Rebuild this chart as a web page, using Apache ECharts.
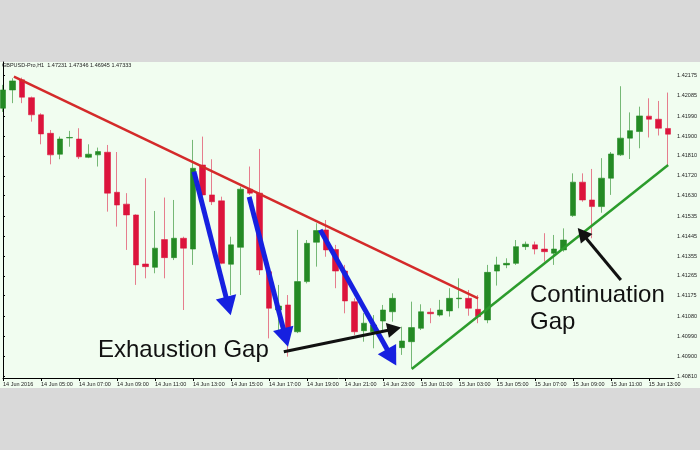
<!DOCTYPE html>
<html><head><meta charset="utf-8">
<script src="https://cdn.jsdelivr.net/npm/echarts@6/dist/echarts.min.js"></script>
<style>html,body{margin:0;padding:0;background:#d9d9d9}#c{width:700px;height:450px}</style>
</head><body><div id="c"></div>
<script>
// ---- data ----
const headerText = 'GBPUSD-Pro,H1  1.47231 1.47346 1.46945 1.47333';
const xTickIndex = [0,4,8,12,16,20,24,28,32,36,40,44,48,52,56,60,64,68];
const xTickLabels = ['14 Jun 2016','14 Jun 05:00','14 Jun 07:00','14 Jun 09:00','14 Jun 11:00','14 Jun 13:00','14 Jun 15:00','14 Jun 17:00','14 Jun 19:00','14 Jun 21:00','14 Jun 23:00','15 Jun 01:00','15 Jun 03:00','15 Jun 05:00','15 Jun 07:00','15 Jun 09:00','15 Jun 11:00','15 Jun 13:00'];
const yTicks = [1.40810,1.40900,1.40990,1.41080,1.41175,1.41265,1.41355,1.41445,1.41535,1.41630,1.41720,1.41810,1.41900,1.41990,1.42085,1.42175];

const opens = [1.42027,1.42110,1.42156,1.42075,1.41997,1.41913,1.41818,1.41892,1.41887,1.41804,
1.41815,1.41827,1.41645,1.41591,1.41542,1.41319,1.41304,1.41430,1.41348,1.41436,
1.41387,1.41769,1.41633,1.41606,1.41318,1.41395,1.41659,1.41641,1.41284,1.41110,
1.41133,1.41011,1.41239,1.41418,1.41474,1.41385,1.41287,1.41148,1.41016,1.41011,
1.41060,1.41102,1.40939,1.40966,1.41027,1.41100,1.41087,1.41106,1.41161,1.41163,
1.41113,1.41065,1.41287,1.41315,1.41322,1.41398,1.41406,1.41387,1.41368,1.41383,
1.41539,1.41691,1.41610,1.41580,1.41709,1.41815,1.41891,1.41921,1.41991,1.41977,
1.41935];
const closes = [1.42110,1.42151,1.42077,1.41997,1.41910,1.41815,1.41887,1.41894,1.41806,1.41818,
1.41830,1.41641,1.41587,1.41542,1.41315,1.41307,1.41391,1.41348,1.41436,1.41391,
1.41754,1.41633,1.41602,1.41322,1.41406,1.41659,1.41641,1.41292,1.41118,1.41128,
1.41011,1.41239,1.41413,1.41471,1.41383,1.41287,1.41151,1.41011,1.41050,1.41042,
1.41110,1.41163,1.40969,1.41030,1.41102,1.41093,1.41110,1.41163,1.41164,1.41118,
1.41080,1.41281,1.41315,1.41322,1.41398,1.41409,1.41387,1.41375,1.41387,1.41428,
1.41691,1.41610,1.41580,1.41709,1.41819,1.41891,1.41925,1.41992,1.41977,1.41936,
1.41909];
const lows = [1.42010,1.42050,1.42050,1.41966,1.41863,1.41772,1.41795,1.41852,1.41796,1.41800,
1.41762,1.41557,1.41489,1.41383,1.41224,1.41254,1.41277,1.41254,1.41337,1.41110,
1.41315,1.41625,1.41587,1.41318,1.41178,1.41178,1.41633,1.41269,1.40981,1.40996,
1.40898,1.41005,1.41231,1.41307,1.41352,1.41209,1.41095,1.40996,1.40966,1.40936,
1.41011,1.41057,1.40906,1.40845,1.41019,1.41050,1.41080,1.41080,1.41118,1.41084,
1.41050,1.41050,1.41221,1.41300,1.41315,1.41383,1.41363,1.41330,1.41315,1.41375,
1.41533,1.41602,1.41436,1.41552,1.41633,1.41810,1.41796,1.41845,1.41894,1.41903,
1.41769];
const highs = [1.42133,1.42163,1.42166,1.42080,1.42004,1.41928,1.41898,1.41924,1.41936,1.41863,
1.41848,1.41860,1.41828,1.41641,1.41545,1.41709,1.41560,1.41621,1.41610,1.41443,
1.41883,1.41898,1.41795,1.41625,1.41443,1.41671,1.41762,1.41842,1.41315,1.41224,
1.41178,1.41474,1.41428,1.41504,1.41519,1.41406,1.41315,1.41163,1.41096,1.41087,
1.41133,1.41186,1.41034,1.41148,1.41136,1.41118,1.41156,1.41209,1.41254,1.41201,
1.41178,1.41315,1.41352,1.41345,1.41428,1.41421,1.41421,1.41459,1.41451,1.41481,
1.41731,1.41731,1.41751,1.41800,1.41828,1.42127,1.42008,1.42034,1.42072,1.42060,
1.42098];

// annotation lines, in [candle index, price]
const redTrend = [[1.15, 1.42171], [50.03, 1.41163]];
const greenTrend = [[43.04, 1.40842], [70.04, 1.41769]];
const blueArrows = [
  [[20.11, 1.41739], [23.73, 1.41128]],
  [[25.92, 1.41624], [29.76, 1.40985]],
  [[33.40, 1.41474], [40.92, 1.40895]]
];
const blackArrows = [
  [[29.57, 1.40920], [41.20, 1.41024]],
  [[65.06, 1.41246], [60.99, 1.41458]]
];
const exhaustionLabel = 'Exhaustion Gap';
const continuationLabel = 'Continuation\nGap';

// ---- chart ----
const FONT = '"Liberation Sans", Arial, sans-serif';
const candles = opens.map((o, i) => [i, o, closes[i], lows[i], highs[i]]);

function seg(p, color, width, arrow, size) {
  return [
    { coord: p[0], symbol: 'none', lineStyle: { color: color, width: width, type: 'solid', opacity: 1 } },
    { coord: p[1], symbol: arrow ? 'triangle' : 'none', symbolSize: size, itemStyle: { color: color } }
  ];
}
const markData = [
  seg(redTrend, '#d42a2a', 2.5, false),
  seg(greenTrend, '#2c9c2c', 2.5, false)
].concat(blueArrows.map(a => seg(a, '#1620e0', 5, true, [21, 19])))
 .concat(blackArrows.map(a => seg(a, '#111111', 3, true, [15, 14])));

const chart = echarts.init(document.getElementById('c'), null, { renderer: 'canvas' });
chart.setOption({
  animation: false,
  backgroundColor: '#d9d9d9',
  graphic: [
    { type: 'rect', z: -10, silent: true, shape: { x: 0, y: 62, width: 700, height: 326 }, style: { fill: '#f1fdf0' } },
    { type: 'text', silent: true, x: 2, y: 65.5, style: { text: headerText, font: '5.5px ' + FONT, fill: '#222', verticalAlign: 'middle' } },
    { type: 'text', silent: true, x: 98, y: 350, z: 10, style: { text: exhaustionLabel, font: '24px ' + FONT, fill: '#111', verticalAlign: 'middle' } },
    { type: 'text', silent: true, x: 530, y: 308.5, z: 10, style: { text: continuationLabel, font: '24px ' + FONT, lineHeight: 27, fill: '#111', verticalAlign: 'middle' } }
  ],
  grid: { left: 0, right: 23, top: 62, bottom: 72, containLabel: false },
  xAxis: {
    type: 'value', min: 0, max: 70.67,
    axisLine: { show: true, onZero: false, lineStyle: { color: '#000', width: 1 } },
    axisTick: { show: true, length: 3, customValues: xTickIndex, lineStyle: { color: '#000' } },
    axisLabel: { customValues: xTickIndex, formatter: v => xTickLabels[xTickIndex.indexOf(v)], align: 'left', fontSize: 5.5, color: '#222', margin: 3, fontFamily: FONT },
    splitLine: { show: false }
  },
  yAxis: {
    type: 'value', position: 'right', min: 1.40801, max: 1.42237,
    axisLine: { show: true, lineStyle: { color: '#000', width: 1 } },
    axisTick: { show: true, length: 2, customValues: yTicks, lineStyle: { color: '#000' } },
    axisLabel: { customValues: yTicks, formatter: v => v.toFixed(5), fontSize: 5.5, color: '#222', margin: 3, fontFamily: FONT },
    splitLine: { show: false }
  },
  series: [{
    type: 'candlestick',
    data: candles,
    encode: { x: 0, y: [1, 2, 3, 4] },
    barWidth: 6,
    itemStyle: {
      color: '#248a24', color0: '#dc143c',
      borderColor: 'rgba(36,138,36,0.6)', borderColor0: 'rgba(220,20,60,0.55)', borderWidth: 1
    },
    markLine: {
      silent: true, animation: false,
      symbol: ['none', 'none'],
      label: { show: false },
      emphasis: { disabled: true },
      data: markData
    }
  }]
});
</script></body></html>
